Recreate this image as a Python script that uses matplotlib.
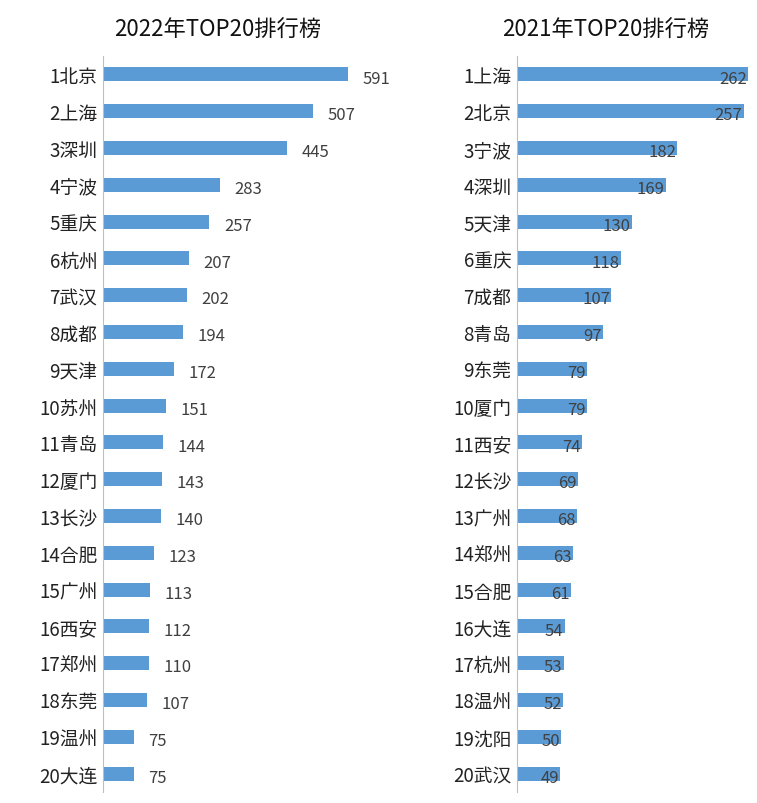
import matplotlib
matplotlib.use("Agg")
import matplotlib.pyplot as plt

plt.rcParams["font.family"] = ["Noto Sans CJK JP", "Noto Sans CJK SC", "Noto Sans CJK TC", "Noto Sans CJK KR", "DejaVu Sans"]

cats22 = ["1北京","2上海","3深圳","4宁波","5重庆","6杭州","7武汉","8成都","9天津","10苏州",
          "11青岛","12厦门","13长沙","14合肥","15广州","16西安","17郑州","18东莞","19温州","20大连"]
vals22 = [591,507,445,283,257,207,202,194,172,151,144,143,140,123,113,112,110,107,75,75]
cats21 = ["1上海","2北京","3宁波","4深圳","5天津","6重庆","7成都","8青岛","9东莞","10厦门",
          "11西安","12长沙","13广州","14郑州","15合肥","16大连","17杭州","18温州","19沈阳","20武汉"]
vals21 = [262,257,182,169,130,118,107,97,79,79,74,69,68,63,61,54,53,52,50,49]

W, H = 757, 804
fig = plt.figure(figsize=(W/100, H/100), dpi=100)
bar_color = "#5b9bd5"
bottom = 1 - 793/H
height = 736/H

def panel(left_px, width_px, xmax, cats, vals, title, inside):
    ax = fig.add_axes([left_px/W, bottom, width_px/W, height])
    y = list(range(len(cats)))
    ax.barh(y, vals, height=0.38, color=bar_color)
    ax.set_ylim(len(cats)-0.5, -0.5)
    ax.set_xlim(0, xmax)
    ax.set_yticks(y)
    ax.set_yticklabels(cats, fontsize=13.5, color="#222222")
    ax.tick_params(axis="y", length=0, pad=4)
    ax.set_xticks([])
    for s in ["top", "right", "bottom"]:
        ax.spines[s].set_visible(False)
    ax.spines["left"].set_color("#bfbfbf")
    for yi, v in zip(y, vals):
        if inside:
            ax.text(v - xmax*0.005, yi + 0.1, str(v), ha="right", va="center", fontsize=12, color="#404040")
        else:
            ax.text(v + xmax*0.05, yi + 0.1, str(v), ha="left", va="center", fontsize=12, color="#404040")
    fig.text((left_px - 30 + width_px/2)/W, 1 - 30/H, title, ha="center", va="center", fontsize=16, color="#111111")
    return ax

panel(103, 290, 700, cats22, vals22, "2022年TOP20排行榜", False)
panel(517, 238, 270, cats21, vals21, "2021年TOP20排行榜", True)

fig.savefig("out.png", dpi=100, facecolor="white")
